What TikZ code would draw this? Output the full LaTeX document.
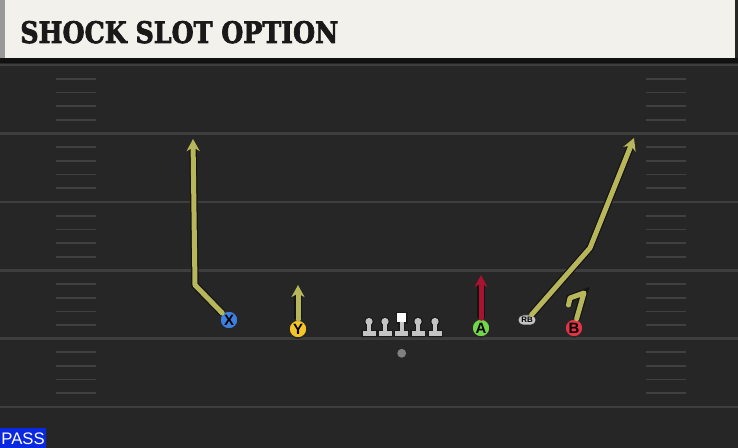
\documentclass[tikz,border=0pt]{standalone}
\usepackage{fontspec}
\setsansfont{Liberation Sans}
\newfontfamily\titlefont{DejaVu Serif}[BoldFeatures={FakeBold=2.5}]
\usepackage{tikz}
\usetikzlibrary{arrows.meta, positioning, shapes.misc}

\definecolor{titlebg}{HTML}{F3F1EB}
\definecolor{fieldbg}{HTML}{262626}
\definecolor{yardline}{HTML}{3E3E3E}
\definecolor{hashline}{HTML}{404040}
\definecolor{routeyel}{HTML}{B8B65A}
\definecolor{routeedge}{HTML}{141414}
\definecolor{routered}{HTML}{A8142F}
\definecolor{xblue}{HTML}{3C7FE0}
\definecolor{yyellow}{HTML}{F5C526}
\definecolor{agreen}{HTML}{74D44C}
\definecolor{bred}{HTML}{E23444}
\definecolor{olgray}{HTML}{C4C4C4}
\definecolor{passblue}{HTML}{0A28E0}

\newcommand{\pawnparts}[1]{(#1,321.5) circle (3.6) (#1-2,321) rectangle (#1+2,332) (#1-6.5,331) rectangle (#1+6.5,336)}

\begin{document}
\begin{tikzpicture}[x=0.02cm,y=-0.02cm,
  yard/.style={draw=yardline, line width=0.045cm},
  hashmark/.style={draw=hashline, line width=0.035cm},
  route/.style={draw=routeyel, line width=0.1cm, line cap=round, line join=round,
    preaction={draw=routeedge, line width=0.15cm}},
  routeend/.style={route, -{Stealth[length=0.24cm,width=0.26cm,inset=0.07cm]}},
  player/.style={circle, draw=black!85, line width=0.8pt, minimum size=0.36cm, inner sep=0pt,
    font=\sffamily\bfseries\fontsize{8.5}{8.5}\selectfont, text=black}]
\tikzstyle{lineout} = [draw=black!90, line width=1.4pt]

\useasboundingbox (0,0) rectangle (738,448);
\fill[fieldbg] (0,0) rectangle (738,448);
\fill[black!55!fieldbg] (0,58) rectangle (738,63);

\foreach \yl in {65,133.5,202,270.5,338.5,407}
  \draw[yard] (0,\yl) -- (738,\yl);
\foreach \yl in {65,133.5,202,270.5,338.5}{
  \foreach \k in {1,...,4}{
    \draw[hashmark] (56,{\yl+\k*13.7}) -- (96,{\yl+\k*13.7});
    \draw[hashmark] (646,{\yl+\k*13.7}) -- (686,{\yl+\k*13.7});
  }
}

\fill[titlebg] (0,0) rectangle (735,58);
\fill[black!40] (0,0) rectangle (5,58);
\node[anchor=base west, inner sep=0pt, text=black!90] (title) at (20,43)
  {\resizebox{6.36cm}{0.44cm}{\titlefont\bfseries SHOCK SLOT OPTION}};

\foreach \lx in {369,385,418,435}
  \path[lineout] \pawnparts{\lx};
\path[lineout] (399.7,321) rectangle (403.7,332) (395.2,331) rectangle (408.2,336);
\path[lineout] (397,313) rectangle (406.4,322.5);
\foreach \lx in {369,385,418,435}{
  \fill[olgray] (\lx,321.5) circle (3.6);
  \fill[olgray] (\lx-2,321) rectangle (\lx+2,332);
  \fill[olgray] (\lx-6.5,331) rectangle (\lx+6.5,336);
}
\fill[olgray] (399.7,321) rectangle (403.7,332);
\fill[olgray] (395.2,331) rectangle (408.2,336);
\fill[white] (397,313) rectangle (406.4,322.5);
\fill[gray] (401.7,353.3) circle (4.4);

\node[player, fill=xblue] (X) at (229,320) {X};
\node[player, fill=yyellow] (Y) at (298,329) {Y};
\node[player, fill=agreen] (A) at (481,328) {A};
\node[player, fill=bred] (B) at (574,328) {B};
\node[rounded rectangle, draw=black!85, fill=olgray, minimum width=0.36cm, minimum height=0.2cm,
  inner sep=0pt, font=\sffamily\bfseries\fontsize{4.5}{4.5}\selectfont] (RB) at (527,320) {RB};

\draw[routeend] (X) -- (195,285) -- (193,139);
\draw[routeend] (Y) -- (298,285);
\draw[routeend, draw=routered] (A) -- (481,275);
\draw[routeend] (RB) -- (590,248) -- (634,138);
\draw[route] (B) -- (584,293) -- (570,298) -- (568.5,305);

\fill[passblue] (0,428) rectangle (46,448);
\node[text=white, font=\sffamily\fontsize{9.5}{9.5}\selectfont, inner sep=0pt] (pass) at (23,438.5) {PASS};
\end{tikzpicture}
\end{document}
